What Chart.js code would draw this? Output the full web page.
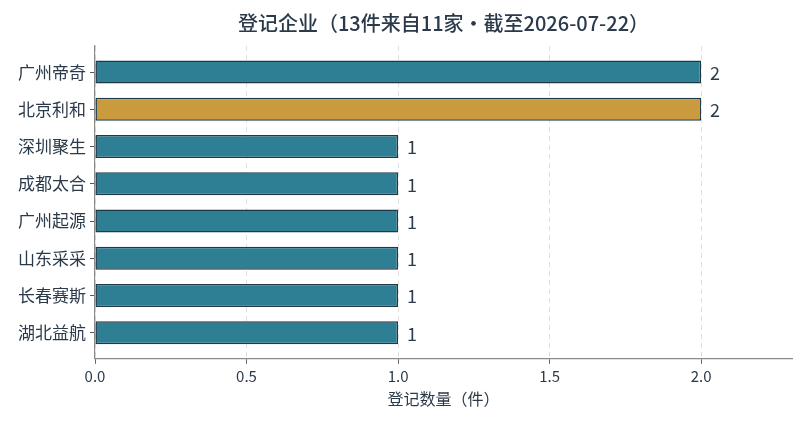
<!DOCTYPE html>
<html>
<head>
<meta charset="utf-8">
<script src="https://cdn.jsdelivr.net/npm/chart.js@4"></script>
<style>
  html, body { margin: 0; padding: 0; background: #fff; }
  #wrap { width: 805px; height: 425px; }
</style>
</head>
<body>
<div id="wrap"><canvas id="regChart"></canvas></div>
<script>
const companies = ["广州帝奇", "北京利和", "深圳聚生", "成都太合", "广州起源", "山东采采", "长春赛斯", "湖北益航"];
const counts = [2, 2, 1, 1, 1, 1, 1, 1];
const barColors = ["#2f7f94", "#c99a3e", "#2f7f94", "#2f7f94", "#2f7f94", "#2f7f94", "#2f7f94", "#2f7f94"];
const xTicks = [0, 0.5, 1.0, 1.5, 2.0];
const titleText = "登记企业（13件来自11家·截至2026-07-22）";
const xTitle = "登记数量（件）";

const FONT = "'Noto Sans CJK SC', 'Noto Sans', sans-serif";
const INK = "#2b3a4a";

// value labels at the end of each bar
const barLabels = {
    id: "barLabels",
    afterDatasetsDraw(chart) {
        const { ctx } = chart;
        const meta = chart.getDatasetMeta(0);
        ctx.save();
        ctx.font = "18px " + FONT;
        ctx.fillStyle = INK;
        ctx.textBaseline = "middle";
        ctx.textAlign = "left";
        meta.data.forEach((bar, i) => {
            ctx.fillText(String(counts[i]), bar.x + 9, bar.y + 1);
        });
        ctx.restore();
    },
};

new Chart(document.getElementById("regChart"), {
    type: "bar",
    data: {
        labels: companies,
        datasets: [
            {
                data: counts,
                backgroundColor: barColors,
                borderColor: "#1e3a48",
                borderWidth: 1.5,
                borderSkipped: false,
                barPercentage: 0.62,
                categoryPercentage: 1.0,
            },
        ],
    },
    options: {
        indexAxis: "y",
        responsive: true,
        maintainAspectRatio: false,
        animation: false,
        layout: { padding: { left: 0, right: 13, top: 11, bottom: 16 } },
        plugins: {
            legend: { display: false },
            tooltip: { enabled: false },
            title: {
                display: true,
                text: titleText,
                fullSize: false,
                color: INK,
                font: { family: FONT, size: 20, weight: "500" },
                padding: { top: 0, bottom: 11 },
            },
        },
        scales: {
            x: {
                min: 0,
                max: 2.3,
                afterBuildTicks(scale) {
                    scale.ticks = xTicks.map((v) => ({ value: v }));
                },
                border: { display: true, color: "#8a8a8a", width: 1.2, dash: [5, 4] },
                grid: {
                    color: "#dcdcdc",
                    tickBorderDash: [],
                    tickColor: "#555",
                    tickLength: 5,
                    lineWidth: 0.9,
                },
                ticks: {
                    color: INK,
                    font: { family: FONT, size: 15 },
                    padding: 3,
                    callback: (v) => Number(v).toFixed(1),
                },
                title: {
                    display: true,
                    text: xTitle,
                    color: INK,
                    font: { family: FONT, size: 16 },
                    padding: { top: 2, bottom: 0 },
                },
            },
            y: {
                afterFit(scale) {
                    scale.width = 95;
                },
                // a little extra room above the first and below the last bar
                afterBuildTicks(scale) {
                    scale._startValue -= 0.2;
                    scale._valueRange += 0.4;
                },
                border: { display: true, color: "#8a8a8a", width: 1.2 },
                grid: {
                    offset: false,
                    drawOnChartArea: false,
                    drawTicks: true,
                    tickLength: 5,
                    tickColor: "#555",
                },
                ticks: {
                    color: INK,
                    font: { family: FONT, size: 17 },
                    padding: 4,
                },
            },
        },
    },
    plugins: [barLabels],
});
</script>
</body>
</html>
